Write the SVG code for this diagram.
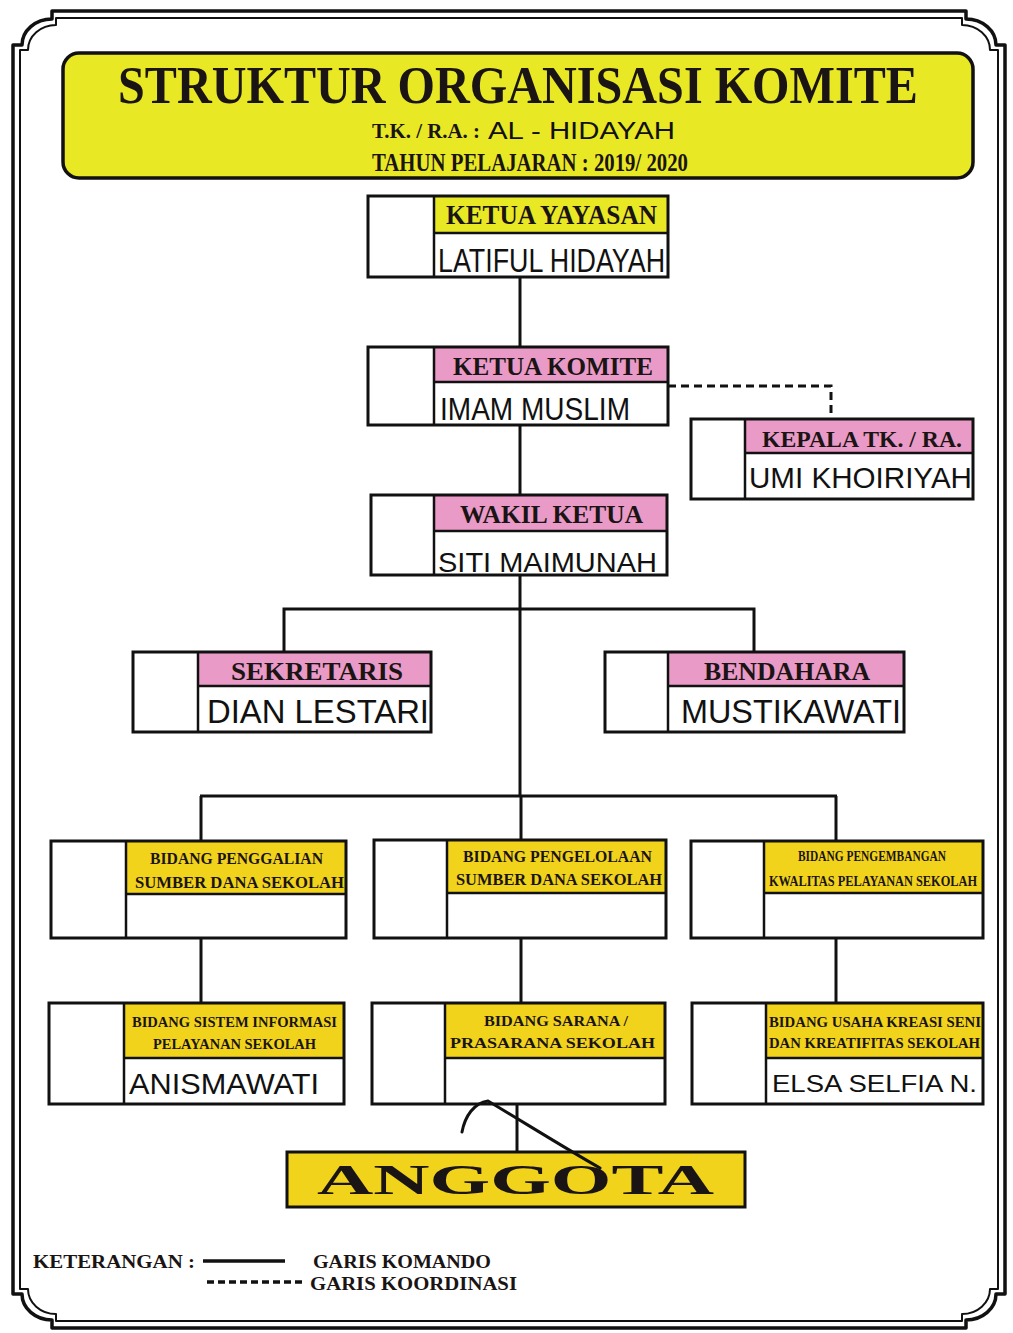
<svg xmlns="http://www.w3.org/2000/svg" width="1013" height="1333" viewBox="0 0 1013 1333">
<style>
.frame{fill:none;stroke:#111;stroke-linejoin:round}
.box{fill:none;stroke:#111;stroke-width:3}
.div{stroke:#111;stroke-width:2.5}
.hy{fill:#e9e824}
.hp{fill:#e99ac6}
.hg{fill:#f2d31c}
.h{font-family:"Liberation Serif",serif;font-weight:bold;fill:#1a1414}
.n{font-family:"Liberation Sans",sans-serif;fill:#111}
.c{stroke:#111;stroke-width:3;fill:none}
.d{stroke:#111;stroke-width:3;fill:none;stroke-dasharray:8 5}
</style>
<rect width="1013" height="1333" fill="#ffffff"/>
<g id="frame">
<path class="frame" stroke-width="3.5" d="M52,11 L966,11 L966,19 A30 26 0 0 1 996,45 L1005,45 L1005,1294 L996,1294 A30 26 0 0 1 966,1320 L966,1328 L52,1328 L52,1320 A30 26 0 0 1 22,1294 L13,1294 L13,45 L22,45 A30 26 0 0 1 52,19 Z"/>
<path class="frame" stroke-width="2" d="M56,18 L962,18 L962,25 A28 25 0 0 1 990,50 L998,50 L998,1289 L990,1289 A28 25 0 0 1 962,1314 L962,1321 L56,1321 L56,1314 A28 25 0 0 1 28,1289 L20,1289 L20,50 L28,50 A28 25 0 0 1 56,25 Z"/>
</g>
<g id="title">
<path d="M79,53 L957,53 A16 16 0 0 1 973,69 L973,162 A16 16 0 0 1 957,178 L79,178 A16 16 0 0 1 63,162 L63,69 A16 16 0 0 1 79,53 Z" fill="#e9e824" stroke="#111" stroke-width="3.5"/>
<text class="h" x="118" y="103" font-size="52" textLength="800" lengthAdjust="spacingAndGlyphs">STRUKTUR ORGANISASI KOMITE</text>
<text class="h" x="372" y="138" font-size="20" textLength="108" lengthAdjust="spacingAndGlyphs">T.K. / R.A. :</text>
<text class="n" x="488" y="139" font-size="23" fill="#2a2035" textLength="187" lengthAdjust="spacingAndGlyphs">AL - HIDAYAH</text>
<text class="h" x="372" y="171" font-size="25" textLength="316" lengthAdjust="spacingAndGlyphs">TAHUN PELAJARAN : 2019/ 2020</text>
</g>
<g id="connectors">
<line class="c" x1="520" y1="277" x2="520" y2="347"/>
<line class="c" x1="520" y1="425" x2="520" y2="495"/>
<line class="c" x1="520" y1="575" x2="520" y2="796"/>
<polyline class="c" points="284,652 284,609 754,609 754,652"/>
<line class="c" x1="200" y1="796" x2="837" y2="796"/>
<line class="c" x1="201" y1="796" x2="201" y2="841"/>
<line class="c" x1="521" y1="796" x2="521" y2="839"/>
<line class="c" x1="836" y1="796" x2="836" y2="841"/>
<line class="c" x1="201" y1="938" x2="201" y2="1003"/>
<line class="c" x1="521" y1="938" x2="521" y2="1003"/>
<line class="c" x1="836" y1="938" x2="836" y2="1003"/>
<line class="c" x1="517" y1="1104" x2="517" y2="1152"/>
<polyline class="d" points="668,386 831,386 831,419"/>
</g>
<g id="ketua-yayasan">
<rect class="hy" x="434" y="196" width="234" height="37"/>
<rect class="box" x="368" y="196" width="300" height="81"/>
<line class="div" x1="434" y1="196" x2="434" y2="277"/>
<line class="div" x1="434" y1="233" x2="668" y2="233"/>
<text class="h" x="446" y="224" font-size="27" textLength="211" lengthAdjust="spacingAndGlyphs">KETUA YAYASAN</text>
<text class="n" x="438" y="272" font-size="34" textLength="227" lengthAdjust="spacingAndGlyphs">LATIFUL HIDAYAH</text>
</g>
<g id="ketua-komite">
<rect class="hp" x="434" y="347" width="234" height="35"/>
<rect class="box" x="368" y="347" width="300" height="78"/>
<line class="div" x1="434" y1="347" x2="434" y2="425"/>
<line class="div" x1="434" y1="382" x2="668" y2="382"/>
<text class="h" x="453" y="375" font-size="26" textLength="200" lengthAdjust="spacingAndGlyphs">KETUA KOMITE</text>
<text class="n" x="440" y="420" font-size="32" textLength="190" lengthAdjust="spacingAndGlyphs">IMAM MUSLIM</text>
</g>
<g id="kepala-tk-ra">
<rect class="hp" x="745" y="419" width="228" height="34"/>
<rect class="box" x="691" y="419" width="282" height="80"/>
<line class="div" x1="745" y1="419" x2="745" y2="499"/>
<line class="div" x1="745" y1="453" x2="973" y2="453"/>
<text class="h" x="762" y="447" font-size="24" textLength="200" lengthAdjust="spacingAndGlyphs">KEPALA TK. / RA.</text>
<text class="n" x="749" y="488" font-size="30" textLength="223" lengthAdjust="spacingAndGlyphs">UMI KHOIRIYAH</text>
</g>
<g id="wakil-ketua">
<rect class="hp" x="434" y="495" width="233" height="36"/>
<rect class="box" x="371" y="495" width="296" height="80"/>
<line class="div" x1="434" y1="495" x2="434" y2="575"/>
<line class="div" x1="434" y1="531" x2="667" y2="531"/>
<text class="h" x="460" y="523" font-size="26" textLength="183" lengthAdjust="spacingAndGlyphs">WAKIL KETUA</text>
<text class="n" x="438" y="572" font-size="28" textLength="219" lengthAdjust="spacingAndGlyphs">SITI  MAIMUNAH</text>
</g>
<g id="sekretaris">
<rect class="hp" x="198" y="652" width="233" height="34"/>
<rect class="box" x="133" y="652" width="298" height="80"/>
<line class="div" x1="198" y1="652" x2="198" y2="732"/>
<line class="div" x1="198" y1="686" x2="431" y2="686"/>
<text class="h" x="231" y="680" font-size="25" textLength="172" lengthAdjust="spacingAndGlyphs">SEKRETARIS</text>
<text class="n" x="207" y="723" font-size="33" textLength="222" lengthAdjust="spacingAndGlyphs">DIAN LESTARI</text>
</g>
<g id="bendahara">
<rect class="hp" x="668" y="652" width="236" height="34"/>
<rect class="box" x="605" y="652" width="299" height="80"/>
<line class="div" x1="668" y1="652" x2="668" y2="732"/>
<line class="div" x1="668" y1="686" x2="904" y2="686"/>
<text class="h" x="704" y="680" font-size="25" textLength="166" lengthAdjust="spacingAndGlyphs">BENDAHARA</text>
<text class="n" x="681" y="723" font-size="33" textLength="220" lengthAdjust="spacingAndGlyphs">MUSTIKAWATI</text>
</g>
<g id="bidang-penggalian">
<rect class="hg" x="126" y="841" width="220" height="53"/>
<rect class="box" x="51" y="841" width="295" height="97"/>
<line class="div" x1="126" y1="841" x2="126" y2="938"/>
<line class="div" x1="126" y1="894" x2="346" y2="894"/>
<text class="h" x="150" y="864" font-size="16" textLength="173" lengthAdjust="spacingAndGlyphs">BIDANG PENGGALIAN</text>
<text class="h" x="135" y="888" font-size="16" textLength="209" lengthAdjust="spacingAndGlyphs">SUMBER DANA SEKOLAH</text>
</g>
<g id="bidang-pengelolaan">
<rect class="hg" x="447" y="840" width="219" height="53"/>
<rect class="box" x="374" y="840" width="292" height="98"/>
<line class="div" x1="447" y1="840" x2="447" y2="938"/>
<line class="div" x1="447" y1="893" x2="666" y2="893"/>
<text class="h" x="463" y="862" font-size="16" textLength="189" lengthAdjust="spacingAndGlyphs">BIDANG PENGELOLAAN</text>
<text class="h" x="456" y="885" font-size="16" textLength="206" lengthAdjust="spacingAndGlyphs">SUMBER DANA SEKOLAH</text>
</g>
<g id="bidang-pengembangan">
<rect class="hg" x="764" y="841" width="219" height="52"/>
<rect class="box" x="691" y="841" width="292" height="97"/>
<line class="div" x1="764" y1="841" x2="764" y2="938"/>
<line class="div" x1="764" y1="893" x2="983" y2="893"/>
<text class="h" x="798" y="861" font-size="14" textLength="148" lengthAdjust="spacingAndGlyphs">BIDANG PENGEMBANGAN</text>
<text class="h" x="769" y="886" font-size="14" textLength="208" lengthAdjust="spacingAndGlyphs">KWALITAS PELAYANAN SEKOLAH</text>
</g>
<g id="bidang-sistem-informasi">
<rect class="hg" x="124" y="1003" width="220" height="55"/>
<rect class="box" x="49" y="1003" width="295" height="101"/>
<line class="div" x1="124" y1="1003" x2="124" y2="1104"/>
<line class="div" x1="124" y1="1058" x2="344" y2="1058"/>
<text class="h" x="132" y="1027" font-size="15" textLength="205" lengthAdjust="spacingAndGlyphs">BIDANG SISTEM INFORMASI</text>
<text class="h" x="153" y="1049" font-size="15" textLength="163" lengthAdjust="spacingAndGlyphs">PELAYANAN SEKOLAH</text>
<text class="n" x="129" y="1094" font-size="30" textLength="190" lengthAdjust="spacingAndGlyphs">ANISMAWATI</text>
</g>
<g id="bidang-sarana">
<rect class="hg" x="445" y="1003" width="220" height="55"/>
<rect class="box" x="372" y="1003" width="293" height="101"/>
<line class="div" x1="445" y1="1003" x2="445" y2="1104"/>
<line class="div" x1="445" y1="1058" x2="665" y2="1058"/>
<text class="h" x="484" y="1026" font-size="15" textLength="144" lengthAdjust="spacingAndGlyphs">BIDANG SARANA /</text>
<text class="h" x="450" y="1048" font-size="15" textLength="205" lengthAdjust="spacingAndGlyphs">PRASARANA SEKOLAH</text>
</g>
<g id="bidang-usaha-kreasi">
<rect class="hg" x="766" y="1003" width="217" height="55"/>
<rect class="box" x="692" y="1003" width="291" height="101"/>
<line class="div" x1="766" y1="1003" x2="766" y2="1104"/>
<line class="div" x1="766" y1="1058" x2="983" y2="1058"/>
<text class="h" x="769" y="1027" font-size="15" textLength="212" lengthAdjust="spacingAndGlyphs">BIDANG USAHA KREASI SENI</text>
<text class="h" x="769" y="1048" font-size="15" textLength="211" lengthAdjust="spacingAndGlyphs">DAN KREATIFITAS SEKOLAH</text>
<text class="n" x="772" y="1092" font-size="23" textLength="205" lengthAdjust="spacingAndGlyphs">ELSA SELFIA N.</text>
</g>
<g id="anggota">
<rect class="hg" x="287" y="1152" width="458" height="55" stroke="#111" stroke-width="3"/>
<text class="h" x="317" y="1194" font-size="42" textLength="397" lengthAdjust="spacingAndGlyphs" fill="#111">ANGGOTA</text>
</g>
<g id="mark">
<path d="M462,1132 C465,1116 474,1103 488,1101 C520,1120 568,1150 600,1168" fill="none" stroke="#111" stroke-width="3" stroke-linecap="round"/>
</g>
<g id="legend">
<text class="h" x="33" y="1268" font-size="19" textLength="162" lengthAdjust="spacingAndGlyphs">KETERANGAN :</text>
<line x1="203" y1="1261" x2="285" y2="1261" stroke="#111" stroke-width="3.5"/>
<text class="h" x="313" y="1268" font-size="19" textLength="178" lengthAdjust="spacingAndGlyphs">GARIS KOMANDO</text>
<line x1="207" y1="1282" x2="304" y2="1282" stroke="#111" stroke-width="3.5" stroke-dasharray="7 4"/>
<text class="h" x="310" y="1290" font-size="19" textLength="207" lengthAdjust="spacingAndGlyphs">GARIS KOORDINASI</text>
</g>
</svg>
